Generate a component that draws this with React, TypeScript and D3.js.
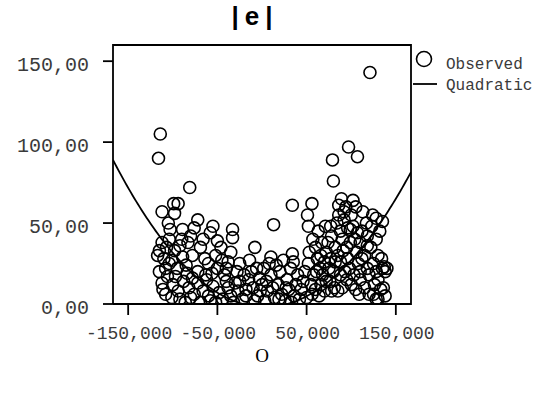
import React, { useRef, useEffect } from 'react';
import * as d3 from 'd3';

// O (thousands) vs |e|
const observedX: number[] = [
  -114, -116, -81, -112, -99, -94, -98, -105, -103, -89, -72, -76, -55, -58, -50, -33, -33, -35, -8,
  -112, -115, -107, -83, -69, -101, -89, -108, -95, -78, -64, -60, -52, -45, -40, -85, -72, -117, -110, -98, -92, -66, -80, -90, -104, -46, -42, -56, -62, -50, -38, -28, -25,
  -112, -111, -101, -86, -69, -52, -32, -106, -100, -94, -88, -82, -76, -72, -66, -60, -55, -48, -44, -38, -35, -30, -27, -22, -18, -97, -84, -78, -63, -108, -92, -80, -58, -40, -115, -104,
  -14, 10, 34, 35, -15, -10, -5, 0, 3, 6, 10, 13, 14, 18, 20, 22, 26, 28, 30, 32, 36, 38, 40, -20, -12, -8, -3, 2, 5, 8, 16, 24, 27, -25, -18, -2, 12, 19, 33, 42, 44, -6,
  121, 97, 107, 79, 80, 34, 56, 51, 52,
  86, 102, 113, 128, 135, 92, 77, 99, 118, 137, 133, 128, 109, 81, 60,
  62, 65, 58, 55, 52, 48, 66, 70, 72, 68, 75, 74, 78, 82, 85, 88, 80, 84, 88, 90, 92, 95, 96, 98, 100, 102, 104, 106, 108, 110, 112, 115, 118, 120, 122, 125, 128, 130, 132, 135, 138, 126, 120, 115, 110, 105, 100, 95, 90, 85, 78, 76, 70, 64, 56, 50, 46, 53, 57, 63, 71, 86, 94, 110, 117, 123, 136, 138, 130, 125, 88, 93, 103, 112, 118, 130, 134, 140, 72, 66, 60, 82, 77, 91, 99, 107, 96, 124, 128, 67, 61, 105, 89,
];
const observedY: number[] = [
  105, 90, 72, 57, 62, 62, 56, 50, 46, 46, 52, 47, 48, 44, 39, 46, 41, 32, 35,
  38, 33, 35, 38, 35, 27, 29, 22, 22, 30, 28, 25, 30, 27, 22, 24, 20, 30, 28, 33, 36, 40, 42, 40, 40, 35, 18, 19, 15, 22, 26, 20, 14,
  13, 9, 4, 1, 1, 1, 1, 17, 12, 8, 14, 10, 6, 13, 8, 5, 11, 7, 3, 10, 5, 13, 8, 3, 9, 17, 19, 16, 18, 6, 3, 4, 2, 14, 20, 25,
  27, 29, 31, 26, 15, 10, 5, 12, 2, 8, 18, 49, 4, 12, 20, 6, 2, 15, 9, 22, 5, 12, 18, 18, 20, 2, 16, 22, 14, 25, 24, 27, 10, 25, 5, 8, 10, 3, 1, 3, 9, 22,
  143, 97, 91, 89, 76, 61, 62, 55, 48,
  61, 64, 57, 53, 51, 57, 48, 46, 42, 23, 9, 3, 6, 10, 35,
  28, 22, 18, 12, 25, 20, 30, 26, 32, 18, 22, 38, 42, 35, 30, 26, 20, 50, 45, 40, 52, 35, 28, 22, 55, 48, 40, 32, 25, 20, 45, 30, 22, 18, 35, 25, 20, 15, 45, 22, 20, 12, 6, 10, 15, 9, 12, 15, 10, 8, 8, 14, 8, 5, 6, 4, 14, 32, 40, 45, 48, 55, 60, 38, 50, 48, 10, 5, 3, 6, 18, 20, 18, 28, 36, 30, 28, 22, 14, 12, 9, 26, 28, 33, 38, 44, 47, 55, 40, 38, 20, 60, 65,
];

// fitted quadratic |e| = c0 + c1*(O/100) + c2*(O/100)^2
const quadCoef = [-1.9, -2.25, 31.25];

const yTicks = [0, 50, 100, 150];
const yTickLabels = ['0,00', '50,00', '100,00', '150,00'];
const xTicks = [-150, -50, 50, 150];
const xTickLabels = ['-150,000', '-50,000', '50,000', '150,000'];

const App: React.FC = () => {
  const svgRef = useRef<SVGSVGElement>(null);
  const width = 549;
  const height = 396;

  useEffect(() => {
    if (!svgRef.current) return;
    const svg = d3.select(svgRef.current);
    svg.selectAll('*').remove();

    const left = 113, right = 411, top = 45, bottom = 304;
    const mono = '"Liberation Mono", "Courier New", monospace';
    const textGray = '#3a3a3a';

    const x = d3.scaleLinear().domain([-167, 167]).range([left, right]);
    const y = d3.scaleLinear().domain([0, 160]).range([bottom, top]);

    svg.append('defs').append('clipPath').attr('id', 'plot-clip')
      .append('rect')
      .attr('x', left).attr('y', top)
      .attr('width', right - left).attr('height', bottom - top);

    // title
    svg.append('text')
      .attr('x', 255).attr('y', 25)
      .attr('text-anchor', 'middle')
      .attr('font-family', '"Liberation Sans", Arial, sans-serif')
      .attr('font-weight', 700)
      .attr('font-size', '26px')
      .attr('letter-spacing', '6px')
      .text('|e|');

    // points
    const pts = observedX.map((v, i) => ({ o: v, e: observedY[i] }));
    svg.append('g')
      .attr('clip-path', 'url(#plot-clip)')
      .selectAll('circle')
      .data(pts)
      .enter()
      .append('circle')
      .attr('cx', d => x(d.o))
      .attr('cy', d => y(d.e))
      .attr('r', 6)
      .attr('fill', 'none')
      .attr('stroke', '#000')
      .attr('stroke-width', 1.6);

    // quadratic fit
    const grid = d3.range(-167, 167.5, 2);
    const line = d3.line<number>()
      .x(d => x(d))
      .y(d => y(quadCoef[0] + quadCoef[1] * (d / 100) + quadCoef[2] * (d / 100) ** 2));
    svg.append('path')
      .attr('clip-path', 'url(#plot-clip)')
      .attr('d', line(grid))
      .attr('fill', 'none')
      .attr('stroke', '#000')
      .attr('stroke-width', 1.8);

    // frame
    svg.append('path')
      .attr('d', `M${left},${bottom}V${top}H${right}V${bottom}H${left}`)
      .attr('fill', 'none')
      .attr('stroke', '#000')
      .attr('stroke-width', 1.8);

    // y axis
    const ya = svg.append('g');
    yTicks.forEach((t, i) => {
      ya.append('line')
        .attr('x1', left - 10).attr('x2', left)
        .attr('y1', y(t)).attr('y2', y(t))
        .attr('stroke', '#000').attr('stroke-width', 1.8);
      ya.append('text')
        .attr('x', left - 24).attr('y', y(t) + 10)
        .attr('text-anchor', 'end')
        .attr('font-family', mono)
        .attr('font-size', '20px')
        .attr('fill', textGray)
        .text(yTickLabels[i]);
    });

    // x axis
    const xa = svg.append('g');
    xTicks.forEach((t, i) => {
      xa.append('line')
        .attr('x1', x(t)).attr('x2', x(t))
        .attr('y1', bottom).attr('y2', bottom + 11)
        .attr('stroke', '#000').attr('stroke-width', 1.8);
      xa.append('text')
        .attr('x', x(t) + 1).attr('y', bottom + 35)
        .attr('text-anchor', 'middle')
        .attr('font-family', mono)
        .attr('font-size', '18px')
        .attr('fill', textGray)
        .text(xTickLabels[i]);
    });

    // x title
    svg.append('text')
      .attr('x', 262).attr('y', 362)
      .attr('text-anchor', 'middle')
      .attr('font-family', '"Liberation Serif", "Times New Roman", serif')
      .attr('font-size', '19px')
      .text('O');

    // legend
    const lg = svg.append('g');
    lg.append('circle')
      .attr('cx', 424).attr('cy', 59).attr('r', 7.5)
      .attr('fill', 'none').attr('stroke', '#000').attr('stroke-width', 1.6);
    lg.append('text')
      .attr('x', 446).attr('y', 69)
      .attr('font-family', mono).attr('font-size', '16px').attr('fill', textGray)
      .text('Observed');
    lg.append('line')
      .attr('x1', 413).attr('x2', 437).attr('y1', 84).attr('y2', 84)
      .attr('stroke', '#000').attr('stroke-width', 1.8);
    lg.append('text')
      .attr('x', 446).attr('y', 90)
      .attr('font-family', mono).attr('font-size', '16px').attr('fill', textGray)
      .text('Quadratic');
  }, []);

  return (
    <svg
      ref={svgRef}
      width={width}
      height={height}
      style={{ position: 'absolute', left: 0, top: 0, background: '#fff' }}
    />
  );
};

export default App;
